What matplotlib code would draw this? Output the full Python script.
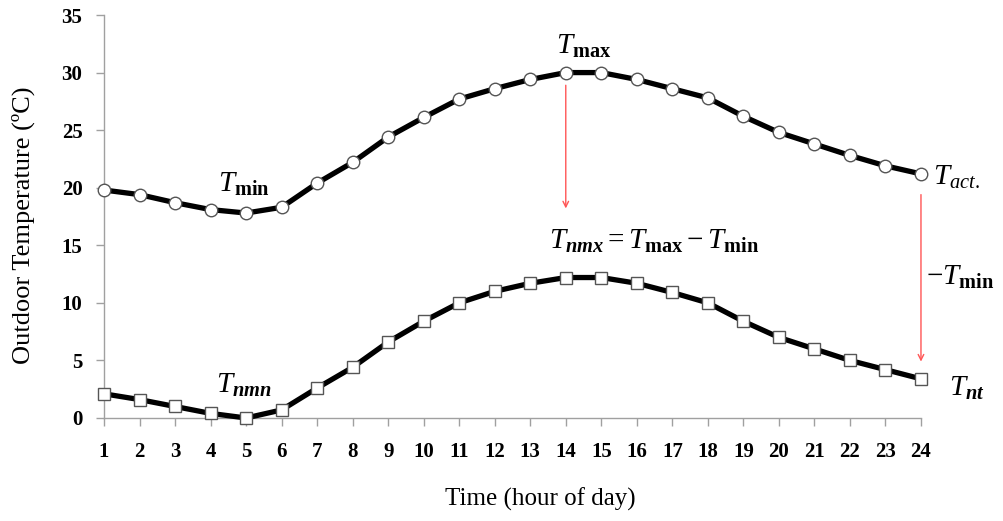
import numpy as np
import matplotlib
matplotlib.use('Agg')
from matplotlib import pyplot as plt

# hourly values
hours = list(range(1, 25))
t_act = [19.8, 19.4, 18.7, 18.1, 17.8, 18.3, 20.4, 22.2, 24.4, 26.1, 27.7, 28.6,
         29.4, 30.0, 30.0, 29.4, 28.6, 27.8, 26.2, 24.8, 23.8, 22.8, 21.9, 21.2]
t_nt = [2.1, 1.6, 1.0, 0.4, 0.0, 0.7, 2.6, 4.4, 6.6, 8.4, 10.0, 11.0,
        11.7, 12.2, 12.2, 11.7, 10.9, 10.0, 8.4, 7.0, 6.0, 5.0, 4.2, 3.4]
y_ticks = [0, 5, 10, 15, 20, 25, 30, 35]

plt.rcParams['font.family'] = 'Liberation Serif'
plt.rcParams['mathtext.fontset'] = 'custom'
plt.rcParams['mathtext.rm'] = 'Liberation Serif'
plt.rcParams['mathtext.it'] = 'Liberation Serif:italic'
plt.rcParams['mathtext.bf'] = 'Liberation Serif:bold'
plt.rcParams['mathtext.bfit'] = 'Liberation Serif:italic:bold'

fig = plt.figure(figsize=(10.04, 5.21), dpi=100)
ax = fig.add_axes([0.1036, 0.1977, 0.8137, 0.7735])

grey = '#a0a0a0'
ax.plot(hours, t_act, color='black', lw=3.8, marker='o', ms=9,
        mfc='white', mec='#555555', mew=1.0, clip_on=False, zorder=3)
ax.plot(hours, t_nt, color='black', lw=3.8, marker='s', ms=9,
        mfc='white', mec='#555555', mew=1.0, clip_on=False, zorder=3)

ax.set_xlim(1, 24)
ax.set_ylim(0, 35)
ax.set_xticks(hours, labels=[str(h) for h in hours], fontweight='bold', fontsize=15)
ax.set_yticks(y_ticks, labels=[str(v) for v in y_ticks], fontweight='bold', fontsize=15)
ax.tick_params(axis='both', colors=grey, labelcolor='black', length=5.5, width=1)
ax.tick_params(axis='x', pad=12)
ax.tick_params(axis='y', pad=10)
for s in ['top', 'right']:
    ax.spines[s].set_visible(False)
for s in ['left', 'bottom']:
    ax.spines[s].set_color(grey)
    ax.spines[s].set_linewidth(1)

ax.set_xlabel('Time (hour of day)', fontsize=18)
ax.xaxis.set_label_coords(0.534, -0.172)
ax.set_ylabel('Outdoor Temperature (ºC)', fontsize=19)
ax.yaxis.set_label_coords(-0.084, 0.479)

# red arrows
red = '#ff5555'
ax.annotate('', xy=(14, 18.2), xytext=(14, 28.9),
            arrowprops=dict(arrowstyle='->', color=red, lw=1, shrinkA=0, shrinkB=0,
                            mutation_scale=10))
ax.annotate('', xy=(24, 4.9), xytext=(24, 19.4),
            arrowprops=dict(arrowstyle='->', color=red, lw=1, shrinkA=0, shrinkB=0,
                            mutation_scale=10))

fs = 21
ax.text(4.95, 20.3, r'$T_{\mathbf{min}}$', fontsize=fs, ha='center', va='center')
ax.text(14.5, 32.3, r'$T_{\mathbf{max}}$', fontsize=fs, ha='center', va='center')
ax.text(25.0, 20.9, r'$T_{act.}$', fontsize=fs, ha='center', va='center', clip_on=False)
ax.text(16.5, 15.3, r'$T_{\mathbfit{nmx}}=T_{\mathbf{max}}-T_{\mathbf{min}}$',
        fontsize=fs, ha='center', va='center')
ax.text(25.1, 12.2, r'$-T_{\mathbf{min}}$', fontsize=fs, ha='center', va='center',
        clip_on=False)
ax.text(4.95, 2.8, r'$T_{\mathbfit{nmn}}$', fontsize=fs, ha='center', va='center')
ax.text(25.3, 2.6, r'$T_{\mathbfit{nt}}$', fontsize=fs, ha='center', va='center',
        clip_on=False)

fig.savefig('out.png', dpi=100)
